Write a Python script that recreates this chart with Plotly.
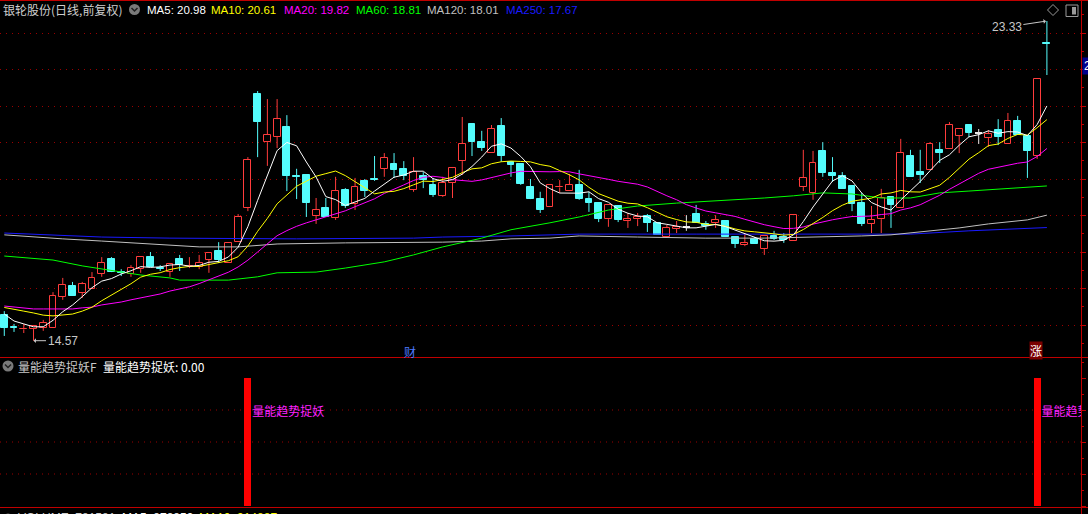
import plotly.graph_objects as go

W, H = 1088, 514


def px(x):
    return x / W


def py(y):
    return 1 - y / H


# ---------------- data (daily K-line) ----------------
opens = [15.27, 14.93, 14.88, 14.89, 14.92, 14.92, 15.77, 16.07, 15.88, 15.99,
         16.40, 16.81, 16.44, 16.40, 16.53, 16.86, 16.54, 16.45, 16.81, 16.61,
         16.59, 16.78, 17.03, 16.70, 17.27, 18.21, 21.33, 20.01, 20.15, 20.42,
         19.07, 19.11, 17.99, 18.21, 17.93, 18.70, 18.32, 18.95, 18.98, 19.28,
         19.41, 19.28, 18.70, 19.08, 18.84, 18.54, 18.89, 19.49, 20.51, 20.01,
         19.71, 20.45, 19.47, 19.41, 18.78, 18.45, 18.23, 18.77, 18.67, 18.84,
         18.45, 18.34, 17.90, 18.26, 17.85, 17.90, 17.99, 17.80, 17.41, 17.63,
         17.69, 18.04, 17.77, 17.80, 17.85, 17.41, 17.19, 17.36, 17.08, 17.44,
         17.41, 17.30, 18.78, 18.62, 19.77, 19.17, 19.08, 18.81, 18.34, 17.77,
         17.90, 18.51, 18.21, 19.63, 19.19, 19.25, 19.80, 19.82, 20.18, 20.48,
         20.26, 20.12, 20.34, 19.96, 20.59, 20.18, 19.63, 22.71]
highs = [15.38, 15.03, 15.03, 15.00, 15.14, 15.90, 16.29, 16.18, 16.18, 16.45,
         16.86, 16.86, 16.53, 16.64, 16.86, 17.00, 16.64, 16.70, 16.92, 16.86,
         16.92, 16.97, 17.27, 17.25, 18.04, 19.60, 21.41, 21.19, 21.19, 20.75,
         19.28, 19.11, 18.48, 18.48, 19.06, 18.75, 19.03, 19.00, 19.63, 19.71,
         19.71, 19.49, 19.60, 19.19, 19.03, 19.06, 19.33, 20.70, 20.51, 20.32,
         20.48, 20.67, 19.47, 19.41, 19.00, 18.65, 18.86, 18.97, 19.14, 19.25,
         18.65, 18.34, 18.29, 18.26, 18.07, 18.07, 18.04, 17.80, 17.74, 17.85,
         18.01, 18.29, 17.85, 18.01, 17.85, 17.41, 17.52, 17.41, 17.44, 17.58,
         17.52, 18.04, 19.80, 19.77, 20.01, 19.60, 19.19, 18.81, 18.62, 18.26,
         18.73, 18.51, 20.10, 19.80, 19.80, 20.01, 20.01, 20.56, 20.37, 20.48,
         20.37, 20.34, 20.64, 20.81, 20.73, 20.18, 21.74, 23.33]
lows = [14.70, 14.81, 14.78, 14.57, 14.84, 14.92, 15.69, 15.80, 15.74, 15.99,
        16.32, 16.45, 16.34, 16.32, 16.43, 16.59, 16.48, 16.32, 16.48, 16.56,
        16.53, 16.43, 16.70, 16.70, 17.27, 18.12, 19.60, 19.36, 19.85, 18.67,
        18.45, 17.96, 17.77, 17.96, 17.88, 18.21, 18.15, 18.51, 18.95, 19.06,
        19.03, 18.97, 18.65, 18.75, 18.51, 18.51, 18.48, 19.11, 19.63, 19.77,
        19.71, 19.47, 19.06, 18.84, 18.45, 18.07, 18.23, 18.62, 18.67, 18.43,
        18.10, 17.82, 17.69, 17.82, 17.66, 17.71, 17.55, 17.47, 17.41, 17.52,
        17.58, 17.80, 17.61, 17.66, 17.41, 17.11, 17.16, 17.22, 16.92, 17.33,
        17.25, 17.30, 18.67, 18.43, 19.06, 18.92, 18.73, 18.12, 17.71, 17.52,
        17.52, 17.66, 18.21, 19.06, 18.89, 19.25, 19.44, 19.82, 19.71, 20.15,
        19.96, 19.88, 19.93, 19.96, 20.21, 19.03, 19.55, 21.85]
closes = [14.92, 14.92, 14.89, 14.97, 15.06, 15.80, 16.10, 15.80, 16.12, 16.29,
          16.70, 16.45, 16.43, 16.56, 16.86, 16.59, 16.53, 16.67, 16.64, 16.62,
          16.70, 16.97, 16.78, 17.25, 17.96, 19.52, 20.56, 20.21, 20.64, 19.08,
          19.06, 18.34, 18.15, 17.96, 18.67, 18.26, 18.78, 18.67, 18.97, 19.58,
          19.25, 19.08, 19.19, 18.97, 18.56, 18.89, 19.30, 19.96, 20.01, 19.85,
          20.37, 19.63, 19.38, 18.86, 18.45, 18.15, 18.84, 18.78, 18.84, 18.45,
          18.34, 17.90, 18.29, 17.88, 17.90, 17.96, 17.80, 17.47, 17.66, 17.69,
          17.69, 17.80, 17.71, 17.88, 17.41, 17.22, 17.25, 17.22, 17.44, 17.36,
          17.33, 18.01, 19.03, 19.44, 19.17, 19.08, 18.73, 18.32, 17.77, 17.88,
          18.48, 18.29, 19.71, 19.06, 19.11, 19.96, 19.71, 20.48, 20.37, 20.26,
          20.26, 20.23, 20.15, 20.59, 20.21, 19.77, 21.74, 22.70]

# moving-average values before the window is full
ma5_lead = [15.30, 15.11, 15.03, 14.95]
ma10_lead = [15.48, 15.44, 15.38, 15.33, 15.27, 15.25, 15.27, 15.30, 15.38]
ma20_lead = [15.52, 15.49, 15.47, 15.44, 15.44, 15.44, 15.44, 15.44, 15.47, 15.49,
             15.55, 15.58, 15.63, 15.69, 15.74, 15.80, 15.85, 15.93, 15.99]

# long moving averages at sample days
ma60_idx = [0, 5, 8, 12, 14, 17, 18, 23, 26, 28, 32, 35, 39, 42, 45, 49, 52, 56, 59,
            62, 65, 69, 71, 74, 78, 81, 84, 87, 90, 93, 96, 99, 103, 107]
ma60_val = [16.89, 16.78, 16.62, 16.45, 16.37, 16.29, 16.23, 16.23, 16.32, 16.43,
            16.45, 16.56, 16.73, 16.92, 17.14, 17.38, 17.61, 17.80, 17.96, 18.15,
            18.26, 18.34, 18.37, 18.43, 18.48, 18.54, 18.62, 18.59, 18.48, 18.48,
            18.62, 18.67, 18.73, 18.81]
ma120_idx = [0, 3, 6, 10, 13, 17, 20, 24, 28, 35, 45, 49, 52, 56, 59, 65, 72, 78, 84,
             88, 91, 94, 98, 101, 105, 107]
ma120_val = [17.47, 17.41, 17.36, 17.30, 17.25, 17.19, 17.14, 17.14, 17.22, 17.25,
             17.27, 17.30, 17.36, 17.38, 17.44, 17.41, 17.38, 17.38, 17.41, 17.44,
             17.47, 17.55, 17.66, 17.77, 17.88, 18.01]
ma250_idx = [0, 4, 10, 17, 24, 30, 42, 45, 52, 59, 71, 88, 93, 99, 107]
ma250_val = [17.52, 17.47, 17.41, 17.38, 17.36, 17.36, 17.38, 17.41, 17.44, 17.49,
             17.49, 17.49, 17.49, 17.58, 17.67]

# indicator sub-panel signal bars
signal_idx = [25, 106]
signal_val = [100, 100]
signal_label = "量能趋势捉妖"

title_stock = "银轮股份(日线,前复权)"
ma_labels = ["MA5: 20.98", "MA10: 20.61", "MA20: 19.82", "MA60: 18.81",
             "MA120: 18.01", "MA250: 17.67"]
high_label, low_label = "23.33", "14.57"

# ---------------- styling ----------------
UP = "#ff3c3c"
DOWN = "#54fcfc"
FLAT = "#e8e8e8"
FRAME = "#c00000"
GRID = "#9a0000"
MA_COLORS = ["#ffffff", "#ffff00", "#ff00ff", "#00ff00", "#c0c0c0", "#1a1aff"]


def moving_avg(vals, n, lead):
    out = list(lead)
    for i in range(n - 1, len(vals)):
        out.append(sum(vals[i - n + 1:i + 1]) / n)
    return out


n = len(closes)
idx = list(range(n))
ma5 = moving_avg(closes, 5, ma5_lead)
ma10 = moving_avg(closes, 10, ma10_lead)
ma20 = moving_avg(closes, 20, ma20_lead)

up = [i for i in idx if closes[i] > opens[i]]
down = [i for i in idx if closes[i] < opens[i]]
flat = [i for i in idx if closes[i] == opens[i]]


def seg_trace(pairs, color):
    xs, ys = [], []
    for i, a, b in pairs:
        xs += [i, i, None]
        ys += [a, b, None]
    return go.Scatter(x=xs, y=ys, mode="lines", line=dict(color=color, width=1),
                      hoverinfo="skip", xaxis="x", yaxis="y")


fig = go.Figure()

up_w = []
for i in up:
    if highs[i] > closes[i]:
        up_w.append((i, highs[i], closes[i]))
    if lows[i] < opens[i]:
        up_w.append((i, opens[i], lows[i]))
fig.add_trace(seg_trace(up_w, UP))
fig.add_trace(seg_trace([(i, highs[i], lows[i]) for i in down], DOWN))
fig.add_trace(seg_trace([(i, highs[i], lows[i]) for i in flat], FLAT))

MINH = 0.02
fig.add_trace(go.Bar(x=up, base=[opens[i] for i in up],
                     y=[max(closes[i] - opens[i], MINH) for i in up], width=0.7,
                     marker=dict(color="black", line=dict(color=UP, width=1)),
                     hoverinfo="skip", xaxis="x", yaxis="y"))
fig.add_trace(go.Bar(x=down, base=[closes[i] for i in down],
                     y=[max(opens[i] - closes[i], MINH) for i in down], width=0.7,
                     marker=dict(color=DOWN, line=dict(color=DOWN, width=1)),
                     hoverinfo="skip", xaxis="x", yaxis="y"))
fig.add_trace(go.Bar(x=flat, base=[opens[i] - 0.015 for i in flat],
                     y=[0.03 for i in flat], width=0.7,
                     marker=dict(color=FLAT, line=dict(width=0)),
                     hoverinfo="skip", xaxis="x", yaxis="y"))

ma_series = [(ma250_idx, ma250_val, MA_COLORS[5]), (ma120_idx, ma120_val, MA_COLORS[4]),
             (ma60_idx, ma60_val, MA_COLORS[3]), (idx, ma20, MA_COLORS[2]),
             (idx, ma10, MA_COLORS[1]), (idx, ma5, MA_COLORS[0])]
for xs, ys, col in ma_series:
    fig.add_trace(go.Scatter(x=xs, y=ys, mode="lines", line=dict(color=col, width=1),
                             hoverinfo="skip", xaxis="x", yaxis="y"))

# sub panel
fig.add_trace(go.Bar(x=signal_idx, y=signal_val, width=0.7, marker=dict(color="#ff0000", line=dict(width=0)),
                     hoverinfo="skip", xaxis="x2", yaxis="y2"))
LABEL_OFFSET = 0.45   # label sits just right of the signal bar
fig.add_trace(go.Scatter(x=[i + LABEL_OFFSET for i in signal_idx], y=[73 for _ in signal_idx], mode="text",
                         text=[signal_label for _ in signal_idx], textposition="middle right",
                         textfont=dict(color="#ff22ff", size=12, family="Noto Sans CJK SC"),
                         cliponaxis=True, hoverinfo="skip", xaxis="x2", yaxis="y2"))

# ---------------- layout ----------------
PSCALE = 0.0274
P0 = 23.905
main_rng = [P0 - PSCALE * 357, P0 - PSCALE * 2]
sub_rng = [(506 - 507) / 1.28, (506 - 358) / 1.28]

xcommon = dict(range=[-0.44, 110.5], domain=[0, px(1081)], visible=False, fixedrange=True)
fig.update_layout(
    width=W, height=H, margin=dict(l=0, r=0, t=0, b=0),
    paper_bgcolor="black", plot_bgcolor="black", showlegend=False,
    barmode="overlay", bargap=0,
    xaxis=dict(**xcommon, anchor="y"),
    xaxis2=dict(**xcommon, anchor="y2", matches="x"),
    yaxis=dict(domain=[py(357), py(2)], range=main_rng, side="right", anchor="x",
               showline=False, ticks="outside", ticklen=4, tickcolor=FRAME, tickwidth=1,
               dtick=1, tick0=0, showticklabels=False, showgrid=True, gridcolor=GRID,
               griddash="1px,5px", gridwidth=1, zeroline=False,
               minor=dict(dtick=0.5, tick0=0, ticks="outside", ticklen=2, tickcolor=FRAME,
                          showgrid=False)),
    yaxis2=dict(domain=[py(507), py(358)], range=sub_rng, side="right", anchor="x2",
                showline=False, ticks="outside", ticklen=4, tickcolor=FRAME, tickwidth=1,
                dtick=25, tick0=0, showticklabels=False, showgrid=False, zeroline=False,
                minor=dict(dtick=12.5, tick0=0, ticks="outside", ticklen=2, tickcolor=FRAME,
                           showgrid=False)),
)

shapes = []
for yy in [0.5, 357.5, 507.5]:
    shapes.append(dict(type="line", xref="paper", yref="paper", x0=0, x1=1, y0=py(yy), y1=py(yy),
                       line=dict(color=FRAME, width=1)))
shapes.append(dict(type="line", xref="paper", yref="paper", x0=px(1081.5), x1=px(1081.5), y0=0, y1=1,
                   line=dict(color=FRAME, width=1)))
for v in [25, 50, 75]:
    shapes.append(dict(type="line", xref="x2 domain", yref="y2", x0=0, x1=1, y0=v, y1=v,
                       line=dict(color=GRID, width=1, dash="1px,5px"), layer="below"))


def circle_icon(cx, cy, r=5.5):
    shapes.append(dict(type="circle", xref="paper", yref="paper",
                       x0=px(cx - r), x1=px(cx + r), y0=py(cy + r), y1=py(cy - r),
                       fillcolor="#7a7a7a", line=dict(width=0)))
    shapes.append(dict(type="path", xref="paper", yref="paper",
                       path=f"M{px(cx - 3)},{py(cy - 1.5)} L{px(cx)},{py(cy + 1.5)} L{px(cx + 3)},{py(cy - 1.5)}",
                       line=dict(color="#202020", width=1.5)))


circle_icon(134.5, 9.5)
circle_icon(8, 366)
circle_icon(8, 519)
# diamond + panel icon top right
shapes.append(dict(type="path", xref="paper", yref="paper",
                   path=f"M{px(1053)},{py(4.5)} L{px(1058.5)},{py(10)} L{px(1053)},{py(15.5)} L{px(1047.5)},{py(10)} Z",
                   line=dict(color="#9a9a9a", width=1)))
shapes.append(dict(type="rect", xref="paper", yref="paper", x0=px(1066), x1=px(1078), y0=py(16.5), y1=py(5),
                   line=dict(color="#9a9a9a", width=1), fillcolor="black"))
shapes.append(dict(type="rect", xref="paper", yref="paper", x0=px(1072), x1=px(1076), y0=py(14.5), y1=py(7),
                   line=dict(width=0), fillcolor="#9a9a9a"))
fig.update_layout(shapes=shapes)

ann = []


def text(x, y, s, color, size=12, family="Liberation Sans, Arial, sans-serif", **kw):
    ann.append(dict(xref="paper", yref="paper", x=px(x), y=py(y), text=s, showarrow=False,
                    xanchor="left", yanchor="middle", font=dict(color=color, size=size, family=family), **kw))


text(1, 9.5, title_stock, "#cfcfcf", 12, "Noto Sans CJK SC")
ma_x = [145, 209, 282, 354, 425, 504]
for xx, lab, col in zip(ma_x, ma_labels, MA_COLORS):
    text(xx, 9.5, lab, col, 11.5)

text(16, 366, "量能趋势捉妖F", "#c8c8c8", 12, "Noto Sans CJK SC")
text(101, 366, "量能趋势捉妖: 0.00", "#ffffff", 12, "Noto Sans CJK SC")

text(16, 518, "VOLUME: 781581", "#d0d0d0", 12)
text(120, 518, "MA5: 878859", "#ffffff", 12)
text(197, 518, "MA10: 914887", "#ffff00", 12)

# price marks
ann.append(dict(xref="x", yref="y", x=107, y=highs[107], text=high_label, showarrow=True,
                ax=-40, ay=6, arrowhead=1, arrowsize=0.8, arrowwidth=1, arrowcolor="#c8c8c8",
                standoff=1, font=dict(color="#c8c8c8", size=12, family="Liberation Sans, Arial")))
ann.append(dict(xref="x", yref="y", x=3, y=min(lows), text=low_label, showarrow=True,
                ax=29, ay=0, arrowhead=1, arrowsize=0.8, arrowwidth=1, arrowcolor="#c8c8c8",
                standoff=0, font=dict(color="#c8c8c8", size=12, family="Liberation Sans, Arial")))

# event markers on the main panel bottom
ann.append(dict(xref="paper", yref="paper", x=px(410), y=py(351), text="财", showarrow=False,
                xanchor="center", yanchor="middle",
                font=dict(color="#4d79ff", size=12, family="Noto Sans CJK SC")))
ann.append(dict(xref="paper", yref="paper", x=px(1035.5), y=py(350.5), text="涨", showarrow=False,
                xanchor="center", yanchor="middle", bgcolor="#7a0000", borderpad=0,
                font=dict(color="#ffffff", size=12, family="Noto Sans CJK SC")))
# current-price tag on the right axis (mostly cut off)
ann.append(dict(xref="paper", yref="paper", x=px(1082), y=py(66), text="22.10", showarrow=False,
                xanchor="left", yanchor="middle", bgcolor="#00008c", borderpad=1,
                font=dict(color="#ffffff", size=12, family="Liberation Sans, Arial")))

fig.update_layout(annotations=ann)

fig.write_html("out.html", config={"displayModeBar": False},
               post_script="document.body.style.margin='0';document.body.style.overflow='hidden';"
                           "document.body.style.background='black';")
